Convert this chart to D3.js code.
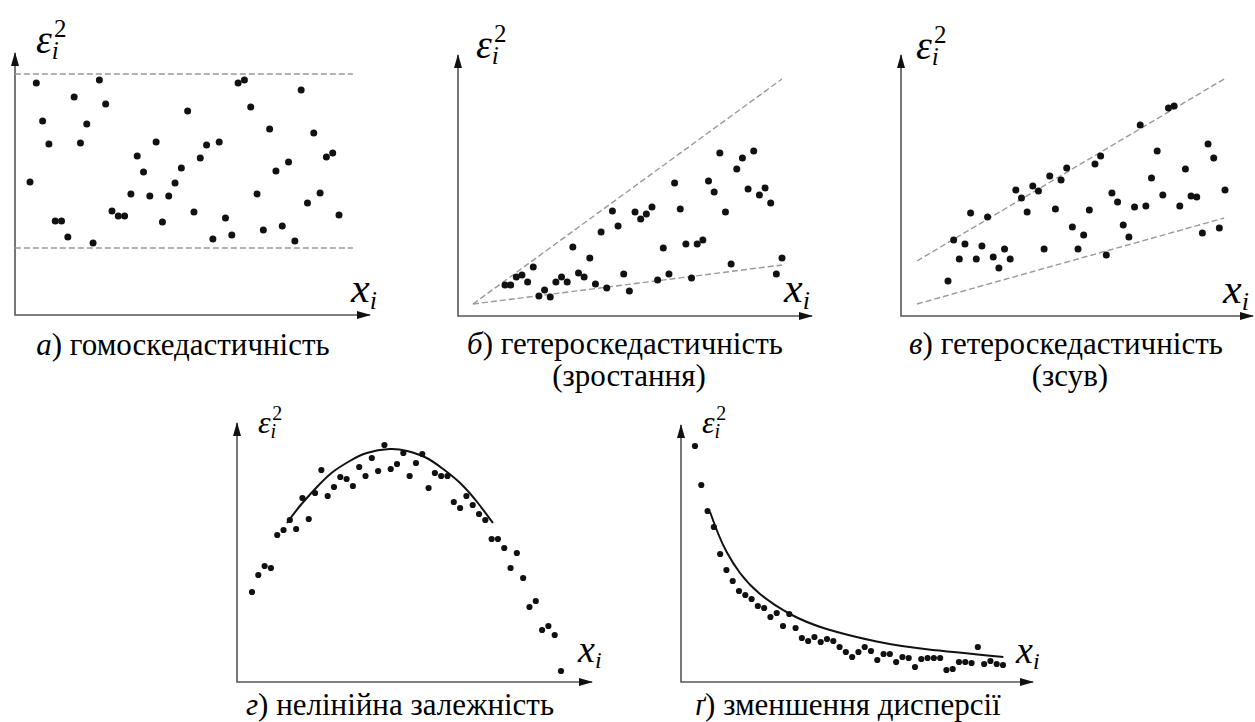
<html>
<head>
<meta charset="utf-8">
<script src="https://cdn.jsdelivr.net/npm/d3@7"></script>
</head>
<body style="margin:0">
<script>
// squared residuals for observations i = 1..50 in each panel (height above the x axis)
const homoY = [133, 232, 194, 171, 94, 94, 78, 218, 172, 191, 72, 235, 211, 104, 99, 99, 121, 159, 143, 119,
  173, 93, 119, 132, 147, 204, 103, 157, 170, 76, 173, 97, 80, 232, 235, 208, 121, 85, 186, 144,
  89, 153, 74, 225, 112, 182, 122, 158, 162, 100]
const growY = [31, 31, 39, 41, 34, 49, 20, 26, 19, 34, 39, 34, 69, 43, 39, 58, 32, 84, 28, 105,
  90, 42, 25, 104, 97, 102, 109, 36, 68, 42, 133, 107, 72, 38, 72, 76, 135, 124, 163, 104,
  52, 147, 158, 127, 165, 121, 128, 113, 42, 58]
const shiftY = [35, 76, 57, 72, 103, 57, 70, 99, 59, 48, 67, 57, 126, 118, 104, 130, 125, 67, 140, 107,
  136, 148, 89, 67, 81, 106, 152, 160, 61, 123, 114, 91, 79, 109, 191, 110, 138, 165, 121, 208,
  210, 110, 147, 120, 119, 83, 172, 158, 88, 126]
const nonlinY = [90, 107, 116, 114, 147, 152, 162, 153, 184, 163, 189, 212, 186, 195, 205, 203, 196, 215, 206, 224,
  211, 237, 213, 218, 229, 206, 219, 228, 194, 209, 206, 206, 180, 174, 186, 177, 168, 162, 143, 143,
  134, 114, 129, 104, 75, 81, 52, 56, 47, 11]
const decayY = [236, 197, 171, 155, 128, 112, 101, 91, 87, 83, 76, 74, 65, 69, 56, 68, 54, 44, 41, 45,
  40, 43, 41, 35, 30, 25, 30, 35, 31, 22, 28, 28, 20, 25, 24, 15, 23, 24, 24, 24,
  12, 13, 20, 20, 19, 35, 18, 21, 18, 17]

// dashed bounds [i, value]
const homoBounds = [[[-1.4, 241], [52.2, 241]], [[-1.4, 67], [52.2, 67]]]
const growBounds = [[[-4.66, 12], [50, 237]], [[-4.66, 12], [50, 51]]]
const shiftBounds = [[[-4.49, 55], [49.85, 237]], [[-4.49, 12], [49.85, 98]]]

// fitted curves [i, value]
const nonlinCurve = [[6.55, 159], [8.6, 176], [11.3, 195], [13.8, 210], [16.5, 221], [19.2, 229], [22.8, 233],
  [25.6, 231], [28.7, 224], [31.3, 213], [34, 199], [36.7, 180], [39.2, 159]]
const decayCurve = [[3.39, 170], [4.71, 148], [6.04, 130], [8.16, 109], [11.34, 88], [16.11, 68], [21.95, 53],
  [29.9, 40.5], [37.86, 32.7], [50.05, 25]]

const captionLetters = ['а', 'б', 'в', 'г', 'ґ']
const captionLine1 = [') гомоскедастичність', ') гетероскедастичність', ') гетероскедастичність', ') нелінійна залежність', ') зменшення дисперсії']
const captionLine2 = ['', '(зростання)', '(зсув)', '', '']

const capSize = 31
const serif = '"Liberation Serif"'

const panels = [
  { values: homoY, bounds: homoBounds, ox: 15, oy: 315, top: 53, right: 370, x0: 30, x1: 339, r: 3.5,
    eps: [36, 53, 40], xl: [351, 302, 42], cap: [183, 355] },
  { values: growY, bounds: growBounds, ox: 458, oy: 316, top: 55, right: 812, x0: 505, x1: 782, r: 3.5,
    eps: [476, 58, 40], xl: [784, 302, 42], cap: [625, 354] },
  { values: shiftY, bounds: shiftBounds, ox: 901, oy: 316, top: 55, right: 1253, x0: 948, x1: 1225, r: 3.5,
    eps: [916, 59, 40], xl: [1223, 303, 42], cap: [1066, 354] },
  { values: nonlinY, curve: nonlinCurve, ox: 237, oy: 682, top: 423, right: 592, x0: 252, x1: 561, r: 3.1,
    eps: [258, 433, 32], xl: [578, 662, 38], cap: [400, 715] },
  { values: decayY, curve: decayCurve, ox: 681, oy: 682, top: 425, right: 1033, x0: 695, x1: 1003, r: 3.1,
    eps: [702, 433, 32], xl: [1016, 663, 38], cap: [848, 715] }
]

const svg = d3.select('body').append('svg')
  .attr('width', 1255)
  .attr('height', 722)

svg.append('defs').append('marker')
  .attr('id', 'arrow')
  .attr('viewBox', '0 0 14 8')
  .attr('refX', 13)
  .attr('refY', 4)
  .attr('markerWidth', 14)
  .attr('markerHeight', 8)
  .attr('markerUnits', 'userSpaceOnUse')
  .attr('orient', 'auto-start-reverse')
  .append('path')
  .attr('d', 'M0,0 L14,4 L0,8 z')
  .attr('fill', '#111')

panels.forEach((p, k) => {
  const g = svg.append('g')

  const x = d3.scaleLinear().domain([1, 50]).range([p.x0, p.x1])
  const y = d3.scaleLinear().domain([0, p.oy - p.top]).range([p.oy, p.top])
  const line = d3.line().x(d => x(d[0])).y(d => y(d[1]))

  // axes with arrows
  g.append('path')
    .attr('d', `M${p.ox},${p.top} L${p.ox},${p.oy} L${p.right},${p.oy}`)
    .attr('fill', 'none')
    .attr('stroke', '#555')
    .attr('stroke-width', 1.6)
    .attr('marker-start', 'url(#arrow)')
    .attr('marker-end', 'url(#arrow)')

  if (p.bounds) {
    g.selectAll('.bound')
      .data(p.bounds)
      .enter()
      .append('path')
      .attr('d', line)
      .attr('fill', 'none')
      .attr('stroke', '#999')
      .attr('stroke-width', 1.4)
      .attr('stroke-dasharray', '6,3')
  }

  if (p.curve) {
    g.append('path')
      .datum(p.curve)
      .attr('d', line.curve(d3.curveNatural))
      .attr('fill', 'none')
      .attr('stroke', '#111')
      .attr('stroke-width', 2)
  }

  g.selectAll('circle')
    .data(p.values)
    .enter()
    .append('circle')
    .attr('cx', (d, i) => x(i + 1))
    .attr('cy', d => y(d))
    .attr('r', p.r)
    .attr('fill', '#111')

  // epsilon_i^2 label, one text with shifted tspans
  const es = p.eps[2]
  const eps = g.append('text')
    .attr('x', p.eps[0]).attr('y', p.eps[1])
    .attr('font-size', es)
    .style('font-family', serif)
    .style('font-style', 'italic')
  eps.append('tspan').text('ε')
  eps.append('tspan')
    .attr('dy', es * 0.15)
    .attr('font-size', Math.round(es * 0.62))
    .text('i')
  eps.append('tspan')
    .attr('dx', -es * 0.12)
    .attr('dy', -es * 0.55)
    .attr('font-size', Math.round(es * 0.62))
    .style('font-style', 'normal')
    .text('2')

  // x_i label
  const xs = p.xl[2]
  const xl = g.append('text')
    .attr('x', p.xl[0]).attr('y', p.xl[1])
    .attr('font-size', xs)
    .style('font-family', serif)
    .style('font-style', 'italic')
  xl.append('tspan').text('x')
  xl.append('tspan')
    .attr('dy', xs * 0.17)
    .attr('font-size', Math.round(xs * 0.62))
    .text('i')

  // caption
  const cap = g.append('text')
    .attr('x', p.cap[0]).attr('y', p.cap[1])
    .attr('text-anchor', 'middle')
    .attr('font-size', capSize)
    .style('font-family', serif)
  cap.append('tspan').style('font-style', 'italic').text(captionLetters[k])
  cap.append('tspan').text(captionLine1[k])
  if (captionLine2[k]) {
    g.append('text')
      .attr('x', p.cap[0] + 4).attr('y', p.cap[1] + 32)
      .attr('text-anchor', 'middle')
      .attr('font-size', capSize)
      .style('font-family', serif)
      .text(captionLine2[k])
  }
})
</script>
</body>
</html>
